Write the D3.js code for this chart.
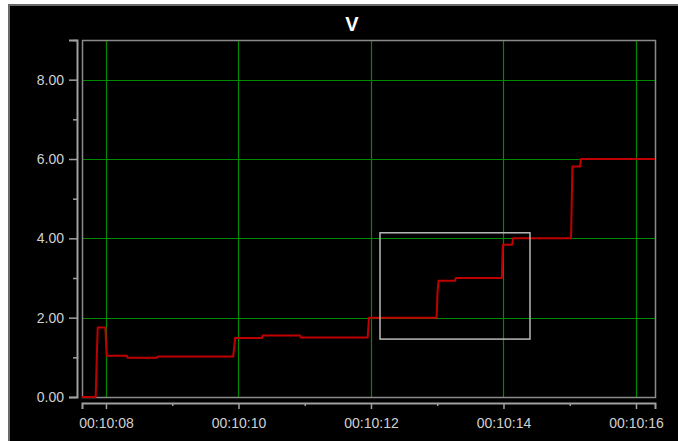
<!DOCTYPE html>
<html>
<head>
<meta charset="utf-8">
<script src="https://cdn.jsdelivr.net/npm/d3@7"></script>
<style>
  html, body { margin: 0; padding: 0; background: #fff; }
  svg { display: block; }
  text { font-family: "Liberation Sans", Arial, sans-serif; }
</style>
</head>
<body>
<svg id="chart" width="678" height="441"></svg>
<script>
// Voltage trace: seconds after 00:10:00 and the measured value.
const seconds = [7.638, 7.845, 7.858, 7.875, 7.99, 8.01, 8.315, 8.325, 8.77, 8.78,
  9.92, 9.95, 10.355, 10.365, 10.93, 10.94, 11.95, 11.97, 12.99, 13.005, 13.02,
  13.27, 13.28, 13.975, 13.99, 14.13, 14.145, 15.02, 15.04, 15.155, 15.17, 16.287];
const volts = [0, 0, 0.85, 1.75, 1.75, 1.04, 1.04, 0.99, 0.99, 1.02,
  1.02, 1.49, 1.49, 1.55, 1.55, 1.50, 1.50, 2.0, 2.0, 2.65, 2.93,
  2.93, 3.0, 3.0, 3.84, 3.84, 4.0, 4.0, 5.81, 5.81, 6.0, 6.0];

// Axis ticks
const yMajorTicks = [0, 2, 4, 6, 8];
const yMinorTicks = [1, 3, 5, 7, 9];
const xMajorSeconds = [8, 10, 12, 14, 16];
const xMinorSeconds = [9, 11, 13, 15];

// Zoom selection box (seconds, volts)
const selection = { t0: 12.136, t1: 14.4, v0: 1.46, v1: 4.14 };

const title = "V";

const at = s => new Date(Date.UTC(2000, 0, 1, 0, 10, 0) + s * 1000);
const data = seconds.map((s, i) => ({ t: at(s), v: volts[i] }));

const svg = d3.select("#chart");
const W = 678, H = 441;
const plot = { left: 82, right: 655, top: 40, bottom: 397 };
const gridColor = "#008a00";

// Panel background
svg.append("rect")
  .attr("x", 9).attr("y", 5).attr("width", W).attr("height", H)
  .attr("fill", "#000").attr("stroke", "#6a6a6a").attr("stroke-width", 2);

const x = d3.scaleUtc()
  .domain([at(7.638), at(16.287)])
  .range([plot.left, plot.right]);
const y = d3.scaleLinear()
  .domain([0, 9])
  .range([plot.bottom, plot.top]);

// Grid
const grid = svg.append("g");
grid.selectAll("line.gh").data(yMajorTicks.filter(d => d > 0)).join("line")
  .attr("class", "gh")
  .attr("x1", plot.left).attr("x2", plot.right)
  .attr("y1", d => Math.round(y(d)) + 0.5).attr("y2", d => Math.round(y(d)) + 0.5)
  .attr("stroke", gridColor).attr("stroke-width", 1.2);
grid.selectAll("line.gv").data(xMajorSeconds).join("line")
  .attr("class", "gv")
  .attr("x1", d => Math.round(x(at(d))) + 0.5).attr("x2", d => Math.round(x(at(d))) + 0.5)
  .attr("y1", plot.top).attr("y2", plot.bottom)
  .attr("stroke", gridColor).attr("stroke-width", 1.2);

// Plot frame
svg.append("rect")
  .attr("x", plot.left + 0.5).attr("y", plot.top + 0.5)
  .attr("width", plot.right - plot.left).attr("height", plot.bottom - plot.top)
  .attr("fill", "none").attr("stroke", "#8a8a8a").attr("stroke-width", 1.5);

// Trace
svg.append("path")
  .datum(data)
  .attr("fill", "none")
  .attr("stroke", "#c00000")
  .attr("stroke-width", 2)
  .attr("stroke-linejoin", "round")
  .attr("d", d3.line().x(d => x(d.t)).y(d => y(d.v)));

// Selection box
svg.append("rect")
  .attr("x", x(at(selection.t0))).attr("y", y(selection.v1))
  .attr("width", x(at(selection.t1)) - x(at(selection.t0)))
  .attr("height", y(selection.v0) - y(selection.v1))
  .attr("fill", "none").attr("stroke", "#b8b8b8").attr("stroke-width", 1.5);

// Y axis
svg.append("g").attr("transform", "translate(77,0)")
  .call(d3.axisLeft(y).tickValues(yMajorTicks).tickFormat(d3.format(".2f")).tickSize(8).tickPadding(5));
svg.append("g").attr("transform", "translate(77,0)")
  .call(d3.axisLeft(y).tickValues(yMinorTicks).tickFormat("").tickSize(4))
  .select(".domain").remove();

// X axis
svg.append("g").attr("transform", "translate(0,403)")
  .call(d3.axisBottom(x).tickValues(xMajorSeconds.map(at)).tickFormat(d3.utcFormat("%H:%M:%S")).tickSize(6).tickPadding(9));
svg.append("g").attr("transform", "translate(0,403)")
  .call(d3.axisBottom(x).tickValues(xMinorSeconds.map(at)).tickFormat("").tickSize(3))
  .select(".domain").remove();

svg.selectAll(".domain").attr("stroke", "#a0a0a0").attr("stroke-width", 2);
svg.selectAll(".tick line").attr("stroke", "#a0a0a0").attr("stroke-width", 1.5);
svg.selectAll(".tick text").attr("fill", "#d0d0d0").attr("font-size", 14)
  .attr("font-family", "'Liberation Sans', Arial, sans-serif");

// Title
svg.append("text")
  .attr("x", 352).attr("y", 31)
  .attr("text-anchor", "middle")
  .attr("fill", "#fff").attr("font-size", 20).attr("font-weight", "bold")
  .text(title);
</script>
</body>
</html>
